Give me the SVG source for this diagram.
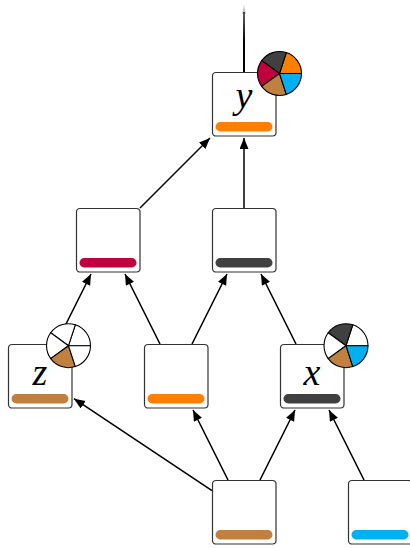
<svg xmlns="http://www.w3.org/2000/svg" width="410" height="548" viewBox="0 0 410 548">
<style>
.box{fill:#fff;stroke:#333;stroke-width:1.2}
.bar{stroke:none}
.lab{font-family:"Liberation Serif","DejaVu Serif",serif;font-style:italic;font-size:38px;fill:#000;text-anchor:middle}
.pie path{stroke:#000;stroke-width:1.1}
#edges line{stroke:#000;stroke-width:1.5;marker-end:url(#a)}
</style>
<defs>
<marker id="a" markerUnits="userSpaceOnUse" markerWidth="12" markerHeight="10" refX="11" refY="4.5" orient="auto"><path d="M0 0L11 4.5L0 9z" fill="#000"/></marker>
<linearGradient id="f" gradientUnits="userSpaceOnUse" x1="0" y1="12" x2="0" y2="42"><stop offset="0" stop-color="#000" stop-opacity="0.6"/><stop offset="1" stop-color="#000"/></linearGradient>
<linearGradient id="g" gradientUnits="userSpaceOnUse" x1="0" y1="3" x2="0" y2="14"><stop offset="0" stop-color="#000" stop-opacity="0.08"/><stop offset="1" stop-color="#000" stop-opacity="0.3"/></linearGradient>
<g id="r"><rect class="box" x="0.5" y="0.5" width="63.5" height="63.5" rx="3.5"/></g>
</defs>
<g id="edges">
<path d="M244 3L245.7 14L242.3 14z" fill="url(#g)"/>
<rect x="243" y="12" width="2" height="60" fill="url(#f)"/>
<line x1="140" y1="208" x2="210" y2="138"/>
<line x1="244" y1="208" x2="244" y2="138"/>
<line x1="56" y1="344" x2="91" y2="274"/>
<line x1="160" y1="344" x2="125" y2="274"/>
<line x1="192" y1="344" x2="227" y2="274"/>
<line x1="296" y1="344" x2="261" y2="274"/>
<line x1="212" y1="490.7" x2="74" y2="398.7"/>
<line x1="228" y1="480" x2="193" y2="410"/>
<line x1="260" y1="480" x2="295" y2="410"/>
<line x1="364" y1="480" x2="329" y2="410"/>
</g>
<g id="node-y" transform="translate(212,72)"><use href="#r"/><rect class="bar" x="3.5" y="50" width="57" height="9.5" rx="4.7" fill="#ff8000"/><text class="lab" x="32" y="36">y</text></g>
<g id="node-crimson" transform="translate(76,208)"><use href="#r"/><rect class="bar" x="3.5" y="50" width="57" height="9.5" rx="4.7" fill="#c0003f"/></g>
<g id="node-dark" transform="translate(212,208)"><use href="#r"/><rect class="bar" x="3.5" y="50" width="57" height="9.5" rx="4.7" fill="#404040"/></g>
<g id="node-z" transform="translate(8,344)"><use href="#r"/><rect class="bar" x="3.5" y="50" width="57" height="9.5" rx="4.7" fill="#c08040"/><text class="lab" x="32" y="41">z</text></g>
<g id="node-orange" transform="translate(144,344)"><use href="#r"/><rect class="bar" x="3.5" y="50" width="57" height="9.5" rx="4.7" fill="#ff8000"/></g>
<g id="node-x" transform="translate(280,344)"><use href="#r"/><rect class="bar" x="3.5" y="50" width="57" height="9.5" rx="4.7" fill="#404040"/><text class="lab" x="32" y="41">x</text></g>
<g id="node-brown" transform="translate(212,480)"><use href="#r"/><rect class="bar" x="3.5" y="50" width="57" height="9.5" rx="4.7" fill="#c08040"/></g>
<g id="node-blue" transform="translate(348,480)"><use href="#r"/><rect class="bar" x="3.5" y="50" width="57" height="9.5" rx="4.7" fill="#00b0f0"/></g>
<g id="pie-y" class="pie" transform="translate(279.5,73.5)">
<path d="M0 0L22 0A22 22 0 0 0 6.8 -20.9z" fill="#ff8000"/>
<path d="M0 0L6.8 -20.9A22 22 0 0 0 -17.8 -12.9z" fill="#404040"/>
<path d="M0 0L-17.8 -12.9A22 22 0 0 0 -17.8 12.9z" fill="#c0003f"/>
<path d="M0 0L-17.8 12.9A22 22 0 0 0 6.8 20.9z" fill="#c08040"/>
<path d="M0 0L6.8 20.9A22 22 0 0 0 22 0z" fill="#00b0f0"/>
</g>
<g id="pie-z" class="pie" transform="translate(68.5,345.7)">
<path d="M0 0L22 0A22 22 0 0 0 6.8 -20.9z" fill="#fff"/>
<path d="M0 0L6.8 -20.9A22 22 0 0 0 -17.8 -12.9z" fill="#fff"/>
<path d="M0 0L-17.8 -12.9A22 22 0 0 0 -17.8 12.9z" fill="#fff"/>
<path d="M0 0L-17.8 12.9A22 22 0 0 0 6.8 20.9z" fill="#c08040"/>
<path d="M0 0L6.8 20.9A22 22 0 0 0 22 0z" fill="#fff"/>
</g>
<g id="pie-x" class="pie" transform="translate(346,345.7)">
<path d="M0 0L22 0A22 22 0 0 0 6.8 -20.9z" fill="#fff"/>
<path d="M0 0L6.8 -20.9A22 22 0 0 0 -17.8 -12.9z" fill="#404040"/>
<path d="M0 0L-17.8 -12.9A22 22 0 0 0 -17.8 12.9z" fill="#fff"/>
<path d="M0 0L-17.8 12.9A22 22 0 0 0 6.8 20.9z" fill="#c08040"/>
<path d="M0 0L6.8 20.9A22 22 0 0 0 22 0z" fill="#00b0f0"/>
</g>
</svg>
